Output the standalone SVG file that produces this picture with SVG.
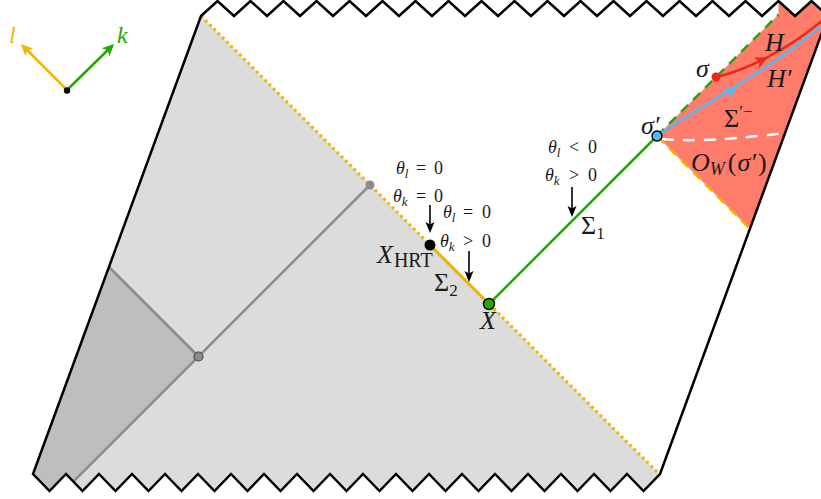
<svg xmlns="http://www.w3.org/2000/svg" width="821" height="499" viewBox="0 0 821 499">
<style>
text{font-family:"Liberation Serif","Times New Roman","DejaVu Serif",serif;fill:#1a1a1a}
.it{font-style:italic}
.th{font-size:18px}
.lb{font-size:26px}
.sub{font-size:13px}
.gl{stroke:#8c8c8c;stroke-width:2.5;fill:none}
</style>
<defs>
<marker id="ahk" viewBox="-12 -6 16 12" refX="-3" refY="0" markerWidth="16" markerHeight="12" markerUnits="userSpaceOnUse" orient="auto"><path d="M0,0 L-11,-4.5 L-8.5,0 L-11,4.5 z" fill="#000"/></marker>
<marker id="aho" viewBox="-14 -7 18 14" refX="-3" refY="0" markerWidth="18" markerHeight="14" markerUnits="userSpaceOnUse" orient="auto"><path d="M0,0 L-12,-5.5 L-9,0 L-12,5.5 z" fill="#f5b400"/></marker>
<marker id="ahg" viewBox="-14 -7 18 14" refX="-3" refY="0" markerWidth="18" markerHeight="14" markerUnits="userSpaceOnUse" orient="auto"><path d="M0,0 L-12,-5.5 L-9,0 L-12,5.5 z" fill="#22aa00"/></marker>
</defs>

<g id="regions">
<polygon id="light-grey" fill="#dcdcdc" points="201,16 660,475 643.5,491 627,474 610.5,491 594,474 577.5,491 561,474 544.5,491 528,474 511.5,491 495,474 478.5,491 462,474 445.5,491 429,474 412.5,491 396,474 379.5,491 363,474 346.5,491 330,474 313.5,491 297,474 280.5,491 264,474 247.5,491 231,474 214.5,491 198,474 181.5,491 165,474 148.5,491 132,474 115.5,491 99,474 82.5,491 66,474 49.5,491 33,474"/>
<polygon id="dark-grey" fill="#bebebe" points="109,267 198.5,356.5 73.5,481.5 66,474 49.5,491 33,474"/>
<polygon id="red-region" fill="#ff7c6a" points="657,136 778.5,14.5 778.5,1 795,16 811.5,1 828,16 750,229"/>
</g>

<g id="connectors">
<path class="gl" d="M370,185 L73.5,481.5"/>
<path class="gl" d="M109,267 L198.5,356.5"/>
<path d="M201,16 L660,475" stroke="#f5b400" stroke-width="3.2" stroke-dasharray="2.8 3.2" fill="none"/>
<path d="M430,245 L489,304" stroke="#f5b400" stroke-width="3" fill="none"/>
<path d="M489,304 L657,136" stroke="#22aa00" stroke-width="2.5" fill="none"/>
<path d="M657,136 L778.5,14.5" stroke="#22aa00" stroke-width="2.5" stroke-dasharray="10 7" fill="none"/>
<path d="M657,136 L750,229" stroke="#f5b400" stroke-width="2.5" stroke-dasharray="10 7" fill="none"/>
<path d="M662,139 Q705,143 785,133" stroke="#fff" stroke-width="2.5" stroke-dasharray="12 9" fill="none"/>
<path d="M716,77 C748,70 790,48 824,19" stroke="#e8291c" stroke-width="2.5" fill="none"/>
<path d="M0,0 L-13,-6 L-10,0 L-13,6 z" fill="#e8291c" transform="translate(768,57) rotate(-27)"/>
<path d="M657,136 C700,106 770,70 826,22" stroke="#55b8f2" stroke-width="2.5" fill="none"/>
<path d="M0,0 L-13,-6 L-10,0 L-13,6 z" fill="#55b8f2" transform="translate(737,87) rotate(-33)"/>
<path d="M430,205 L430,230" stroke="#000" stroke-width="1.6" marker-end="url(#ahk)"/>
<path d="M469,251 L469,279" stroke="#000" stroke-width="1.6" marker-end="url(#ahk)"/>
<path d="M572,187 L572,214" stroke="#000" stroke-width="1.6" marker-end="url(#ahk)"/>
<path d="M67,90 L23,46" stroke="#f5b400" stroke-width="2.5" marker-end="url(#aho)"/>
<path d="M67,90 L112,46" stroke="#22aa00" stroke-width="2.5" marker-end="url(#ahg)"/>
</g>

<g id="boundary">
<path fill="none" stroke="#000" stroke-width="2.5" stroke-linejoin="miter" d="M201,16 L217.5,1 L234,16 L250.5,1 L267,16 L283.5,1 L300,16 L316.5,1 L333,16 L349.5,1 L366,16 L382.5,1 L399,16 L415.5,1 L432,16 L448.5,1 L465,16 L481.5,1 L498,16 L514.5,1 L531,16 L547.5,1 L564,16 L580.5,1 L597,16 L613.5,1 L630,16 L646.5,1 L663,16 L679.5,1 L696,16 L712.5,1 L729,16 L745.5,1 L762,16 L778.5,1 L795,16 L811.5,1 L828,16 L660,474 L643.5,491 L627,474 L610.5,491 L594,474 L577.5,491 L561,474 L544.5,491 L528,474 L511.5,491 L495,474 L478.5,491 L462,474 L445.5,491 L429,474 L412.5,491 L396,474 L379.5,491 L363,474 L346.5,491 L330,474 L313.5,491 L297,474 L280.5,491 L264,474 L247.5,491 L231,474 L214.5,491 L198,474 L181.5,491 L165,474 L148.5,491 L132,474 L115.5,491 L99,474 L82.5,491 L66,474 L49.5,491 L33,474 Z"/>
</g>

<g id="legend">
<circle cx="67" cy="90.5" r="3.2" fill="#000"/>
<text class="it" x="9" y="43" font-size="24" style="fill:#f5b400">l</text>
<text class="it" x="117" y="43" font-size="24" style="fill:#22aa00">k</text>
</g>

<g id="node-upper-grey"><circle cx="370" cy="185" r="4.5" fill="#8c8c8c"/></g>
<g id="node-lower-grey"><circle cx="198.5" cy="356.5" r="4.5" fill="#8c8c8c" stroke="#444" stroke-width="1.2"/></g>

<g id="node-XHRT">
<circle cx="430" cy="245" r="5.5" fill="#000"/>
<text class="lb" x="377" y="263"><tspan class="it">X</tspan><tspan font-size="20" dy="4" dx="1">HRT</tspan></text>
<text class="th" x="396" y="174"><tspan class="it">θ</tspan><tspan class="it sub" dy="4">l</tspan><tspan x="416" dy="-4">=</tspan><tspan x="434">0</tspan></text>
<text class="th" x="393" y="202"><tspan class="it">θ</tspan><tspan class="it sub" dy="4">k</tspan><tspan x="416" dy="-4">=</tspan><tspan x="434">0</tspan></text>
</g>

<g id="node-Sigma2">
<text class="lb" x="434" y="291">Σ<tspan font-size="17" dy="5">2</tspan></text>
<text class="th" x="443" y="218"><tspan class="it">θ</tspan><tspan class="it sub" dy="4">l</tspan><tspan x="463" dy="-4">=</tspan><tspan x="482">0</tspan></text>
<text class="th" x="440" y="247"><tspan class="it">θ</tspan><tspan class="it sub" dy="4">k</tspan><tspan x="463" dy="-4">&gt;</tspan><tspan x="482">0</tspan></text>
</g>

<g id="node-X">
<circle cx="489" cy="304" r="5.5" fill="#22aa00" stroke="#000" stroke-width="1.4"/>
<text class="lb it" x="480" y="329">X</text>
</g>

<g id="node-Sigma1">
<text class="lb" x="581" y="234">Σ<tspan font-size="17" dy="5">1</tspan></text>
<text class="th" x="548" y="153"><tspan class="it">θ</tspan><tspan class="it sub" dy="4">l</tspan><tspan x="569" dy="-4">&lt;</tspan><tspan x="588">0</tspan></text>
<text class="th" x="545" y="181"><tspan class="it">θ</tspan><tspan class="it sub" dy="4">k</tspan><tspan x="569" dy="-4">&gt;</tspan><tspan x="588">0</tspan></text>
</g>

<g id="node-sigma-prime">
<circle cx="657" cy="136" r="5" fill="#55b8f2" stroke="#000" stroke-width="1.4"/>
<text class="lb it" x="641" y="134">σ′</text>
</g>

<g id="node-sigma">
<circle cx="716" cy="77" r="4.5" fill="#e8291c"/>
<text class="lb it" x="696" y="77">σ</text>
</g>

<g id="labels-red">
<text class="lb it" x="765" y="51">H</text>
<text class="lb it" x="767" y="87">H′</text>
<text class="lb" x="724" y="127">Σ<tspan font-size="17" dy="-10">′−</tspan></text>
<text class="lb" x="691" y="171"><tspan class="it">O</tspan><tspan class="it" font-size="18" dy="4">W</tspan><tspan dy="-4" dx="3">(</tspan><tspan class="it" dx="1">σ′</tspan><tspan dx="2">)</tspan></text>
</g>
</svg>
